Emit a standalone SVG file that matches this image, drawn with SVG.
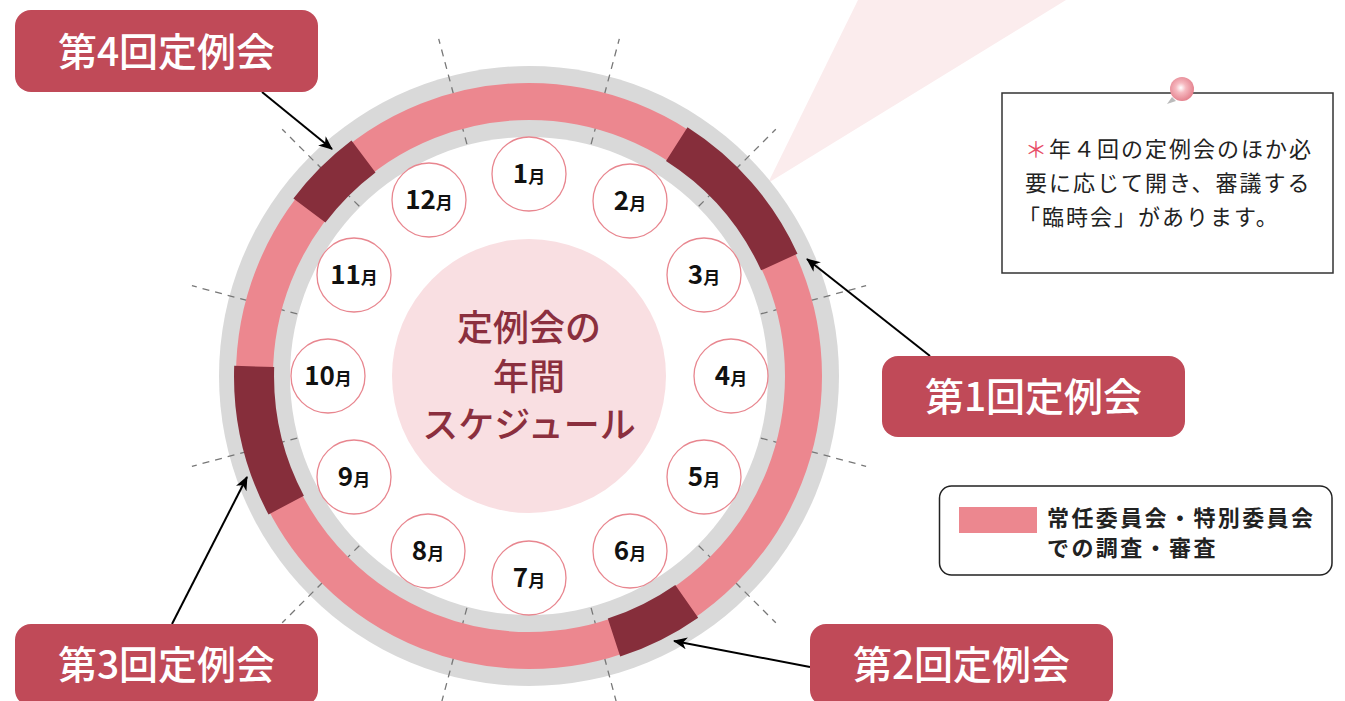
<svg xmlns="http://www.w3.org/2000/svg" width="1345" height="701" viewBox="0 0 1345 701">
<defs>
<style>
.jp{font-family:"Noto Sans CJK JP","Noto Sans",sans-serif}
.lbl rect{fill:#c04a58}
.lbl text{fill:#fff;font-size:39px;font-weight:500;text-anchor:middle}
.mon circle{fill:#fff;stroke:#e8868f;stroke-width:1.3}
.mon text{fill:#111;text-anchor:middle;font-weight:700}
.dig{font-size:26px}
.tsu{font-size:17px}
.dash line{stroke:#777;stroke-width:1.3;stroke-dasharray:7 6}
.seg{fill:#862e3b}
.arr{stroke:#000;stroke-width:2;fill:none;marker-end:url(#ah)}
</style>
<marker id="ah" viewBox="0 0 14 12" refX="13" refY="6" markerWidth="14" markerHeight="12" markerUnits="userSpaceOnUse" orient="auto">
<path d="M0,0 L14,6 L0,12 L4,6 Z" fill="#000"/>
</marker>
<radialGradient id="pin" cx="0.45" cy="0.45" r="0.6">
<stop offset="0" stop-color="#fff"/>
<stop offset="0.35" stop-color="#f6b9c0"/>
<stop offset="1" stop-color="#e27b88"/>
</radialGradient>
</defs>
<rect width="1345" height="701" fill="#fff"/>

<polygon id="beam" points="768,183 858,0 1066,0" fill="#fbeced"/>

<g id="wheel">
<circle cx="529" cy="376" r="310" fill="#d9d9d9"/>
<circle cx="529" cy="376" r="239" fill="#fff"/>
<g class="dash">
<line x1="760.8" y1="438.1" x2="866.1" y2="466.3"/>
<line x1="698.7" y1="545.7" x2="775.8" y2="622.8"/>
<line x1="591.1" y1="607.8" x2="619.3" y2="713.1"/>
<line x1="466.9" y1="607.8" x2="438.7" y2="713.1"/>
<line x1="359.3" y1="545.7" x2="282.2" y2="622.8"/>
<line x1="297.2" y1="438.1" x2="191.9" y2="466.3"/>
<line x1="297.2" y1="313.9" x2="191.9" y2="285.7"/>
<line x1="359.3" y1="206.3" x2="282.2" y2="129.2"/>
<line x1="466.9" y1="144.2" x2="438.7" y2="38.9"/>
<line x1="591.1" y1="144.2" x2="619.3" y2="38.9"/>
<line x1="698.7" y1="206.3" x2="775.8" y2="129.2"/>
<line x1="760.8" y1="313.9" x2="866.1" y2="285.7"/>
</g>
<circle cx="529" cy="376" r="274.5" fill="none" stroke="#ec878f" stroke-width="37"/>
<path class="seg" d="M293.4,198.5 A295,295 0 0 1 351.5,140.4 L375.5,172.4 A255,255 0 0 0 325.4,222.5 Z"/>
<path class="seg" d="M687.5,127.2 A295,295 0 0 1 797.5,253.7 L761.1,270.3 A255,255 0 0 0 666,160.9 Z"/>
<path class="seg" d="M698.2,617.7 A295,295 0 0 1 620.2,656.6 L607.8,618.5 A255,255 0 0 0 675.3,584.9 Z"/>
<path class="seg" d="M268.5,514.5 A295,295 0 0 1 234.2,365.7 L274.2,367.1 A255,255 0 0 0 303.9,495.7 Z"/>
</g>

<g id="center" class="jp">
<circle cx="529" cy="376" r="137" fill="#f9dfe2"/>
<g fill="#8b2f3e" font-size="36" font-weight="500" text-anchor="middle">
<text x="529" y="341">定例会の</text>
<text x="529" y="390">年間</text>
<text x="529" y="438">スケジュール</text>
</g>
</g>

<g id="months" class="jp mon">
<g id="m1"><circle cx="529" cy="174" r="37"/><text x="529" y="183"><tspan class="dig">1</tspan><tspan class="tsu">月</tspan></text></g>
<g id="m2"><circle cx="630" cy="201" r="37"/><text x="630" y="210"><tspan class="dig">2</tspan><tspan class="tsu">月</tspan></text></g>
<g id="m3"><circle cx="704" cy="275" r="37"/><text x="704" y="284"><tspan class="dig">3</tspan><tspan class="tsu">月</tspan></text></g>
<g id="m4"><circle cx="731" cy="376" r="37"/><text x="731" y="385"><tspan class="dig">4</tspan><tspan class="tsu">月</tspan></text></g>
<g id="m5"><circle cx="704" cy="477" r="37"/><text x="704" y="486"><tspan class="dig">5</tspan><tspan class="tsu">月</tspan></text></g>
<g id="m6"><circle cx="630" cy="551" r="37"/><text x="630" y="560"><tspan class="dig">6</tspan><tspan class="tsu">月</tspan></text></g>
<g id="m7"><circle cx="529" cy="578" r="37"/><text x="529" y="587"><tspan class="dig">7</tspan><tspan class="tsu">月</tspan></text></g>
<g id="m8"><circle cx="428" cy="551" r="37"/><text x="428" y="560"><tspan class="dig">8</tspan><tspan class="tsu">月</tspan></text></g>
<g id="m9"><circle cx="354" cy="477" r="37"/><text x="354" y="486"><tspan class="dig">9</tspan><tspan class="tsu">月</tspan></text></g>
<g id="m10"><circle cx="328" cy="376" r="37"/><text x="328" y="385"><tspan class="dig">10</tspan><tspan class="tsu">月</tspan></text></g>
<g id="m11"><circle cx="354" cy="275" r="37"/><text x="354" y="284"><tspan class="dig">11</tspan><tspan class="tsu">月</tspan></text></g>
<g id="m12"><circle cx="429" cy="200" r="37"/><text x="429" y="209"><tspan class="dig">12</tspan><tspan class="tsu">月</tspan></text></g>
</g>

<g id="connectors">
<line class="arr" x1="262" y1="92" x2="332" y2="149"/>
<line class="arr" x1="930" y1="356" x2="807" y2="259"/>
<line class="arr" x1="810" y1="667" x2="674" y2="641"/>
<line class="arr" x1="172" y1="624" x2="247" y2="477"/>
</g>

<g id="label4" class="jp lbl"><rect x="15" y="10" width="303" height="82" rx="16"/><text x="166.5" y="66">第4回定例会</text></g>
<g id="label1" class="jp lbl"><rect x="882" y="356" width="303" height="81" rx="16"/><text x="1033.5" y="411">第1回定例会</text></g>
<g id="label2" class="jp lbl"><rect x="810" y="624" width="303" height="82" rx="16"/><text x="961.5" y="679">第2回定例会</text></g>
<g id="label3" class="jp lbl"><rect x="15" y="624" width="303" height="82" rx="16"/><text x="166.5" y="679">第3回定例会</text></g>

<g id="note" class="jp">
<rect x="1002" y="93" width="331" height="180" fill="#fff" stroke="#333" stroke-width="1.5"/>
<polygon points="1167,104 1172,97 1176,101" fill="#bbb"/>
<circle cx="1182" cy="89" r="12" fill="url(#pin)"/>
<g font-size="22" letter-spacing="2" fill="#222">
<text x="1025" y="157"><tspan fill="#e8506a">＊</tspan>年４回の定例会のほか必</text>
<text x="1025" y="191">要に応じて開き、審議する</text>
<text x="1018" y="225">「臨時会」があります。</text>
</g>
</g>

<g id="legend" class="jp">
<rect x="939.5" y="486" width="392.5" height="89" rx="12" fill="#fff" stroke="#222" stroke-width="1.5"/>
<rect x="959" y="507" width="78" height="26" fill="#ec878f"/>
<g font-size="22" font-weight="700" letter-spacing="2.4" fill="#222">
<text x="1047" y="526">常任委員会・特別委員会</text>
<text x="1047" y="556">での調査・審査</text>
</g>
</g>
</svg>
